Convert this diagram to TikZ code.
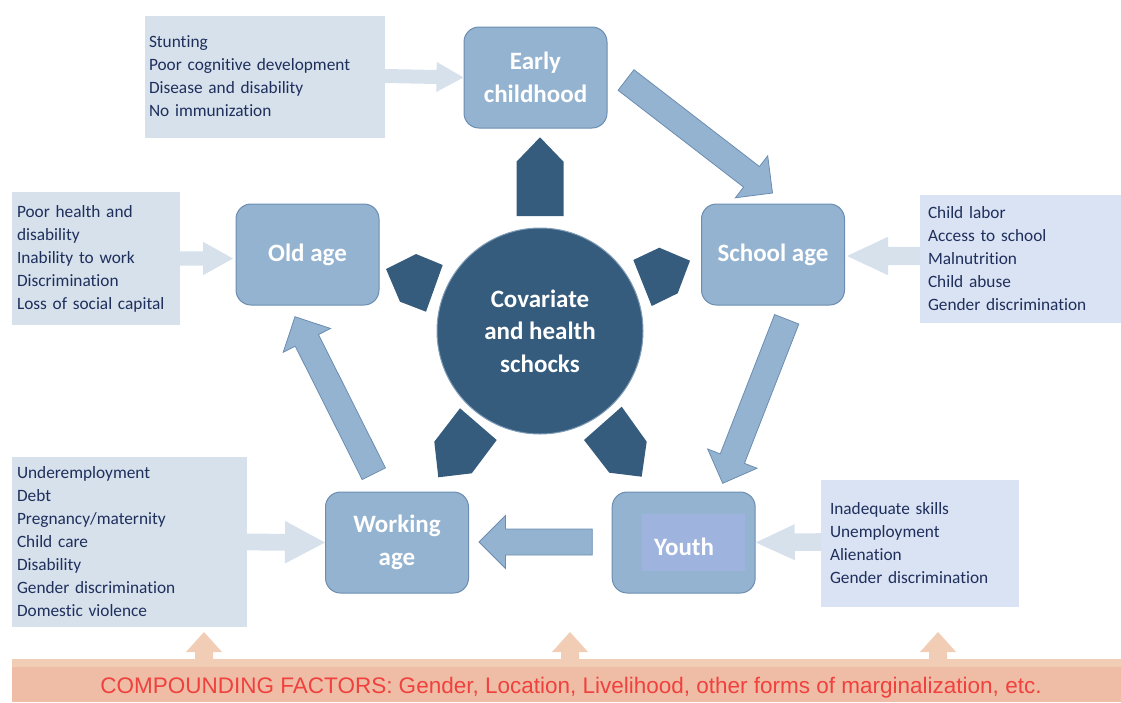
\documentclass[tikz,border=0pt]{standalone}
\usepackage{fontspec}
\setmainfont{Carlito}[Ligatures=NoCommon]
\newfontfamily\bandfont{Liberation Sans}
\usetikzlibrary{calc}

\definecolor{stagefill}{HTML}{94B3D0}
\definecolor{stageline}{HTML}{6C8DB1}
\definecolor{shockfill}{HTML}{355C7D}
\definecolor{shockline}{HTML}{7F9CB8}
\definecolor{infogrey}{HTML}{D6E1EC}
\definecolor{infolilac}{HTML}{DAE3F3}
\definecolor{infotext}{HTML}{1F2F5C}
\definecolor{youthpanel}{HTML}{9EB4DE}
\definecolor{bandtop}{HTML}{F2CDB5}
\definecolor{bandmain}{HTML}{EFBDA5}
\definecolor{bandred}{HTML}{F0413F}

% block arrow: style, tail, tip, shaft half width, head half width, head length
\newcommand\stagearrow[6]{%
  \coordinate (ba-h) at ($(#3)!#6!(#2)$);
  \path[#1] ($(#2)!#4!90:(#3)$) -- ($(ba-h)!#4!90:(#3)$) -- ($(ba-h)!#5!90:(#3)$)
    -- (#3) -- ($(ba-h)!#5!-90:(#3)$) -- ($(ba-h)!#4!-90:(#3)$)
    -- ($(#2)!#4!-90:(#3)$) -- cycle;
}

\tikzset{
  stage/.style={draw=stageline, fill=stagefill, line width=1pt, rounded corners=15pt,
    minimum width=143pt, minimum height=101pt, inner sep=0pt, align=center,
    text=white, font=\bfseries\fontsize{25}{33}\selectfont},
  stagelabel/.style={text=white, inner sep=0pt, font=\bfseries\fontsize{25}{33}\selectfont},
  info/.style={inner ysep=0pt, align=left, text=infotext,
    font=\fontsize{17.3}{23}\selectfont},
  cyclearrow/.style={fill=stagefill, draw=stageline, line width=0.8pt, line join=miter},
  feedarrow/.style={fill=infogrey},
  liftarrow/.style={fill=bandtop},
  shock/.style={fill=shockfill},
}

\begin{document}
\begin{tikzpicture}[x=1pt, y=-1pt]
\useasboundingbox (0,0) rectangle (1121,702);

% risk boxes around the cycle
\node[info, fill=infogrey, minimum width=240pt, minimum height=122pt, text width=232pt, inner xsep=4pt]
  (riskearly) at (265,76.5) {Stunting\\Poor cognitive development\\Disease and disability\\No immunization};
\node[info, fill=infogrey, minimum width=168pt, minimum height=133pt, text width=158pt, inner xsep=5pt]
  (riskold) at (96,258.5) {Poor health and\\disability\\Inability to work\\Discrimination\\Loss of social capital};
\node[info, fill=infolilac, minimum width=201pt, minimum height=128pt, text width=185pt, inner xsep=8pt]
  (riskschool) at (1020.5,259) {Child labor\\Access to school\\Malnutrition\\Child abuse\\Gender discrimination};
\node[info, fill=infolilac, minimum width=198pt, minimum height=127pt, text width=180pt, inner xsep=9pt]
  (riskyouth) at (920,543.5) {Inadequate skills\\Unemployment\\Alienation\\Gender discrimination};
\node[info, fill=infogrey, minimum width=235pt, minimum height=170pt, text width=225pt, inner xsep=5pt]
  (riskwork) at (129.5,542) {Underemployment\\Debt\\Pregnancy/maternity\\Child care\\Disability\\Gender discrimination\\Domestic violence};

% life-cycle stages
\node[stage] (early) at (535.5,77.5) {Early\\childhood};
\node[stage] (school) at (773,254.5) {School age};
\node[stage] (youth) at (683.7,542.5) {};
\node[fill=youthpanel, minimum width=103pt, minimum height=57pt, inner sep=0pt] (youthbg) at (693.4,542) {};
\node[stagelabel] (youthlabel) at (684,547) {Youth};
\node[stage] (working) at (397,542.5) {Working\\age};
\node[stage] (old) at (307.5,254.5) {Old age};

% feeding arrows from risk boxes
\coordinate (fe-a) at (385,76);   \coordinate (fe-b) at (early.west);
\coordinate (fs-a) at (920,256);  \coordinate (fs-b) at (847,256);
\coordinate (fo-a) at (180,258.5);\coordinate (fo-b) at (233,258.5);
\coordinate (fw-a) at (247,542);  \coordinate (fw-b) at (working.west);
\coordinate (fy-a) at (821,542);  \coordinate (fy-b) at (youth.east);
\stagearrow{feedarrow}{fe-a}{fe-b}{7pt}{15pt}{27pt}
\stagearrow{feedarrow}{fs-a}{fs-b}{9.2pt}{19.2pt}{41pt}
\stagearrow{feedarrow}{fo-a}{fo-b}{7.2pt}{16.7pt}{30pt}
\stagearrow{feedarrow}{fw-a}{fw-b}{8.4pt}{21.3pt}{40pt}
\stagearrow{feedarrow}{fy-a}{fy-b}{8.8pt}{18pt}{39pt}

% cycle arrows between stages
\coordinate (es-a) at (626,80);     \coordinate (es-b) at (772.5,193);
\coordinate (sy-a) at (786.7,319.3);\coordinate (sy-b) at (722.7,483.3);
\coordinate (yw-a) at (592.3,542);  \coordinate (yw-b) at (479,542);
\coordinate (wo-a) at (373.8,473.7);\coordinate (wo-b) at (295,316.7);
\stagearrow{cyclearrow}{es-a}{es-b}{13pt}{26.5pt}{26.5pt}
\stagearrow{cyclearrow}{sy-a}{sy-b}{13pt}{26.5pt}{26.5pt}
\stagearrow{cyclearrow}{yw-a}{yw-b}{13pt}{26.5pt}{26.5pt}
\stagearrow{cyclearrow}{wo-a}{wo-b}{13pt}{26.5pt}{26.5pt}

% shocks hub with its five pointers
\node[circle, fill=shockfill, draw=shockline, line width=1pt, minimum size=206pt, inner sep=0pt,
  align=center, text=white, font=\bfseries\fontsize{25}{32.5}\selectfont]
  (shocks) at (540,331) {Covariate\\and health\\schocks};
\fill[shock] (516.5,161.7) -- (540,137.3) -- (563.5,161.7) -- (563.5,216) -- (516.5,216) -- cycle;
\fill[shock] (633.3,260) -- (659.3,247.7) -- (690,260.7) -- (677.7,293.3) -- (651.7,306) -- cycle;
\fill[shock] (386,269) -- (416,254) -- (442.7,265) -- (426,311.7) -- (400,301.7) -- cycle;
\fill[shock] (434.3,441.7) -- (460,408.3) -- (496.7,440) -- (471.7,473.3) -- (438.3,477.3) -- cycle;
\fill[shock] (584,440) -- (621.7,406.7) -- (646.7,441.7) -- (641.7,476.7) -- (609.3,472.7) -- cycle;

% compounding factors band
\fill[bandtop] (12,659) rectangle (1121,702);
\fill[bandmain] (12,667) rectangle (1121,702);
\coordinate (l1-a) at (204,660); \coordinate (l1-b) at (204,632);
\coordinate (l2-a) at (570,660); \coordinate (l2-b) at (570,632);
\coordinate (l3-a) at (938,660); \coordinate (l3-b) at (938,632);
\stagearrow{liftarrow}{l1-a}{l1-b}{9pt}{18pt}{20pt}
\stagearrow{liftarrow}{l2-a}{l2-b}{9pt}{18pt}{20pt}
\stagearrow{liftarrow}{l3-a}{l3-b}{9pt}{18pt}{20pt}
\node[text=bandred, inner sep=0pt, font=\bandfont\fontsize{22.5}{26}\selectfont]
  (factors) at (571,688) {COMPOUNDING FACTORS: Gender, Location, Livelihood, other forms of marginalization, etc.};
\end{tikzpicture}
\end{document}
